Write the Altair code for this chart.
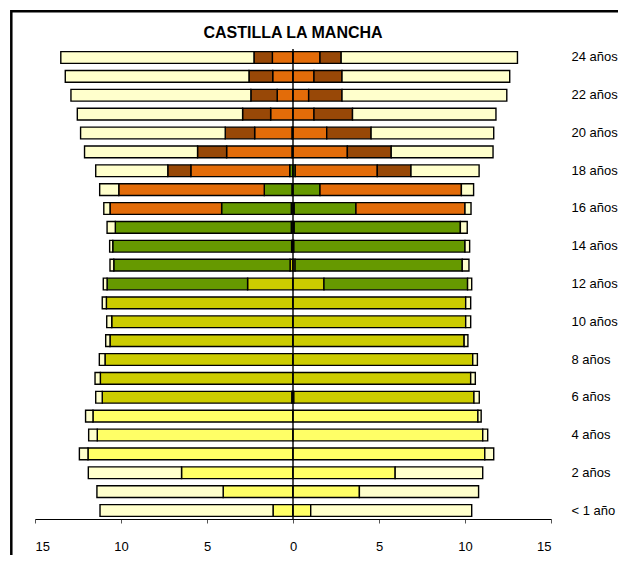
import altair as alt
import pandas as pd

# Edades (filas) de 0 a 24 años
edades = ["< 1 año", "1 año"] + [f"{i} años" for i in range(2, 25)]
etiquetas_eje = ["< 1 año"] + [f"{i} años" for i in range(2, 25, 2)]

categorias = ["Educación Infantil", "Educación Primaria", "ESO",
              "Bachillerato y FP", "Universidad", "No escolarizado"]
colores = ["#FFFF66", "#CCCC00", "#669900", "#E36C09", "#984807", "#FFFFCC"]

titulo = "CASTILLA LA MANCHA"

Z = 0.0
# Lado izquierdo (valores en %)
inf_izq = [1.16, 4.06, 6.48, 11.92, 11.38, 11.63, 0.07] + [Z] * 18
pri_izq = [Z] * 6 + [11.02, 11.20, 10.93, 10.64, 10.54, 10.85, 2.64, 0.17, 0.08, 0.10, 0.10, 0.06] + [Z] * 7
eso_izq = [Z] * 12 + [8.17, 10.25, 10.40, 10.23, 4.05, 1.61, 0.19, 0.06, 0.06, Z, Z, Z, Z]
bac_izq = [Z] * 16 + [6.49, 8.46, 5.75, 3.80, 2.17, 1.30, 0.92, 1.18, 1.20]
uni_izq = [Z] * 18 + [1.34, 1.69, 1.71, 1.63, 1.53, 1.38, 1.07]
no_izq = [10.06, 7.34, 5.42, 0.50, 0.50, 0.43, 0.38, 0.31, 0.33, 0.25, 0.29, 0.24, 0.22,
          0.22, 0.18, 0.48, 0.36, 1.11, 4.19, 6.57, 8.41, 9.61, 10.46, 10.68, 11.23]

# Lado derecho (valores en %)
inf_der = [1.03, 3.86, 5.94, 11.15, 11.03, 10.75, 0.05] + [Z] * 18
pri_der = [Z] * 6 + [10.47, 10.33, 10.45, 9.95, 10.04, 10.04, 1.80, 0.12, 0.05, 0.07, 0.07] + [Z] * 8
eso_der = [Z] * 12 + [8.35, 9.72, 9.95, 9.66, 3.59, 1.57, 0.13, Z, Z, Z, Z, Z, Z]
bac_der = [Z] * 16 + [6.34, 8.22, 4.77, 3.16, 1.96, 1.22, 0.91, 1.22, 1.57]
uni_der = [Z] * 18 + [1.96, 2.55, 2.58, 2.24, 1.94, 1.63, 1.23]
no_der = [9.36, 6.93, 5.09, 0.52, 0.29, 0.19, 0.31, 0.27, 0.27, 0.22, 0.29, 0.29, 0.24,
          0.39, 0.27, 0.40, 0.35, 0.71, 3.96, 5.92, 7.13, 8.34, 9.58, 9.75, 10.25]

izq = [inf_izq, pri_izq, eso_izq, bac_izq, uni_izq, no_izq]
der = [inf_der, pri_der, eso_der, bac_der, uni_der, no_der]

rows = []
for ci, cat in enumerate(categorias):
    for ai, edad in enumerate(edades):
        if izq[ci][ai] > 0:
            rows.append({"edad": edad, "cat": cat, "orden": ci, "lado": "Hombres", "v": -izq[ci][ai]})
        if der[ci][ai] > 0:
            rows.append({"edad": edad, "cat": cat, "orden": ci, "lado": "Mujeres", "v": der[ci][ai]})
df = pd.DataFrame(rows)

W, H = 516, 470
PAD = {"left": 27, "top": 41, "right": 67, "bottom": 36}

orden_y = list(reversed(edades))

barras = alt.Chart(df).mark_bar(stroke="black", strokeWidth=1.4).encode(
    x=alt.X("v:Q", stack="zero",
            scale=alt.Scale(domain=[-15, 15], nice=False, zero=False),
            axis=alt.Axis(values=[-15, -10, -5, 0, 5, 10, 15], labelExpr="abs(datum.value)",
                          title=None, grid=False, domainColor="black", domainWidth=1,
                          tickColor="#555555", tickSize=4, labelPadding=17,
                          labelFontSize=13, labelFont="Arial", labelColor="black")),
    y=alt.Y("edad:N", sort=orden_y,
            scale=alt.Scale(paddingInner=0.38, paddingOuter=0.14),
            axis=alt.Axis(orient="right", values=etiquetas_eje, title=None, domain=False,
                          ticks=False, grid=False, labelPadding=20, labelFontSize=13,
                          labelFont="Arial", labelColor="black", labelAlign="left")),
    color=alt.Color("cat:N", scale=alt.Scale(domain=categorias, range=colores), legend=None),
    order=alt.Order("orden:Q", sort="ascending"),
)

centro = alt.Chart(pd.DataFrame({"x": [0]})).mark_rule(color="black", strokeWidth=1.4).encode(
    x="x:Q"
)

marco = alt.Chart(pd.DataFrame({"a": [0]})).mark_rect(
    fillOpacity=0, stroke="black", strokeWidth=2.5, clip=False
).encode(
    x=alt.value(-23.7), x2=alt.value(W + PAD["right"] + 6),
    y=alt.value(-37.7), y2=alt.value(H + PAD["bottom"] + 6),
)

cabecera = alt.Chart(pd.DataFrame({"t": [titulo]})).mark_text(
    fontSize=16, fontWeight="bold", font="Arial", color="black",
    align="center", baseline="alphabetic", clip=False
).encode(
    text="t:N", x=alt.value(W / 2), y=alt.value(-11),
)

chart = alt.layer(barras, centro, marco, cabecera).properties(
    width=W, height=H,
    autosize=alt.AutoSizeParams(type="none"),
    padding=PAD,
    background="white",
).configure_view(strokeWidth=0, stroke="transparent")

chart.save("out.html", embed_options={"renderer": "svg", "actions": False})
